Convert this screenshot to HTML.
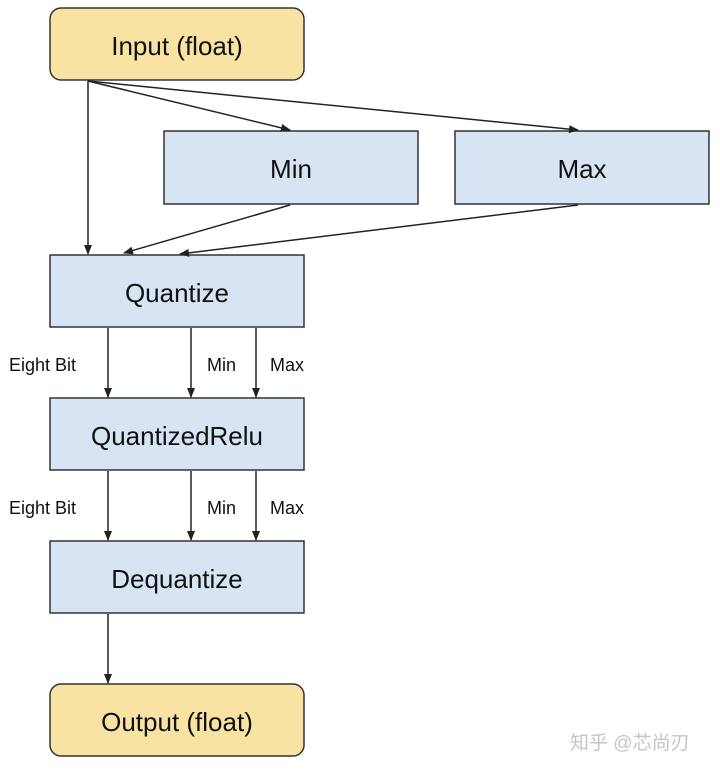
<!DOCTYPE html>
<html><head><meta charset="utf-8"><style>
html,body{margin:0;padding:0;background:#fff;}
svg{display:block;}
text{font-family:"Liberation Sans",Arial,sans-serif;fill:#111;}
</style></head><body>
<svg width="720" height="771" viewBox="0 0 720 771" xmlns="http://www.w3.org/2000/svg">
<defs>
<marker id="a" markerWidth="10" markerHeight="8" refX="9" refY="4" orient="auto" markerUnits="userSpaceOnUse">
<path d="M0,0 L10,4 L0,8 Z" fill="#222"/>
</marker>
</defs>
<g stroke="#333" stroke-width="1.5">
<rect x="50" y="8" width="254" height="72" rx="11" fill="#f8e3a3"/>
<rect x="164" y="131" width="254" height="73" fill="#d7e4f3"/>
<rect x="455" y="131" width="254" height="73" fill="#d7e4f3"/>
<rect x="50" y="255" width="254" height="72" fill="#d7e4f3"/>
<rect x="50" y="398" width="254" height="72" fill="#d7e4f3"/>
<rect x="50" y="541" width="254" height="72" fill="#d7e4f3"/>
<rect x="50" y="684" width="254" height="72" rx="11" fill="#f8e3a3"/>
</g>
<g stroke="#222" stroke-width="1.5" fill="none" marker-end="url(#a)">
<line x1="88" y1="81" x2="88" y2="254"/>
<line x1="88" y1="81" x2="290" y2="130"/>
<line x1="88" y1="81" x2="578" y2="130"/>
<line x1="290" y1="205" x2="124" y2="253"/>
<line x1="578" y1="205" x2="180" y2="254"/>
<line x1="108" y1="328" x2="108" y2="397"/>
<line x1="191" y1="328" x2="191" y2="397"/>
<line x1="256" y1="328" x2="256" y2="397"/>
<line x1="108" y1="471" x2="108" y2="540"/>
<line x1="191" y1="471" x2="191" y2="540"/>
<line x1="256" y1="471" x2="256" y2="540"/>
<line x1="108" y1="614" x2="108" y2="683"/>
</g>
<g font-size="26" text-anchor="middle">
<text x="177" y="55">Input (float)</text>
<text x="291" y="178">Min</text>
<text x="582" y="178">Max</text>
<text x="177" y="302">Quantize</text>
<text x="177" y="445">QuantizedRelu</text>
<text x="177" y="588">Dequantize</text>
<text x="177" y="731">Output (float)</text>
</g>
<g font-size="18">
<text x="9" y="371">Eight Bit</text>
<text x="207" y="371">Min</text>
<text x="270" y="371">Max</text>
<text x="9" y="514">Eight Bit</text>
<text x="207" y="514">Min</text>
<text x="270" y="514">Max</text>
</g>
<text x="570" y="749" font-size="19" style="fill:#c4c4c4;font-family:'Liberation Sans','Noto Sans CJK SC',sans-serif">知乎 @芯尚刃</text>
</svg>
</body></html>
